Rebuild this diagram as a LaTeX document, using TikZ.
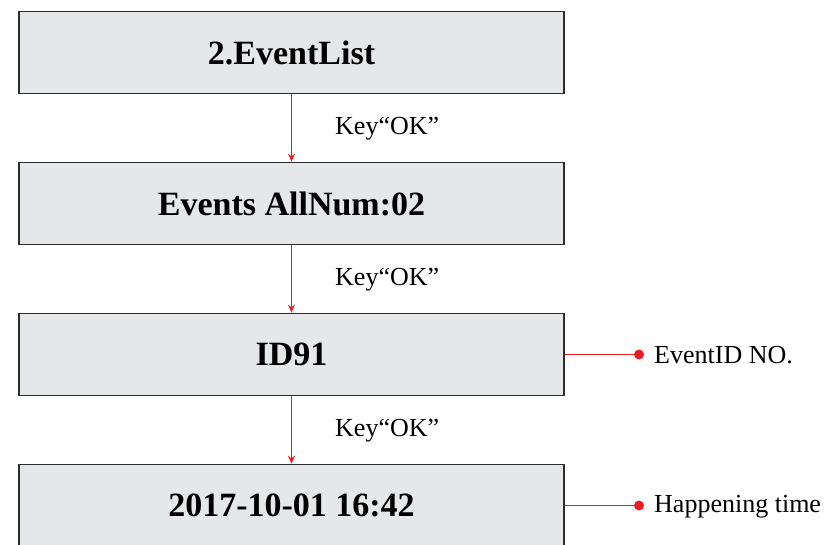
\documentclass[tikz,border=0pt]{standalone}
\usepackage{fontspec}
\setmainfont{Liberation Serif}
\usetikzlibrary{arrows.meta}
\definecolor{boxfill}{RGB}{230,231,232}
\definecolor{boxline}{RGB}{45,45,48}
\definecolor{redline}{RGB}{237,28,36}
\begin{document}
\begin{tikzpicture}[x=1pt,y=-1pt,
  menubox/.style={draw=boxline, fill=boxfill, line width=1.6pt, minimum width=545pt, minimum height=82pt, inner sep=0pt, font=\fontsize{34}{40}\selectfont\bfseries},
  keylabel/.style={anchor=west, inner sep=0pt, font=\fontsize{26}{30}\selectfont},
  sidelabel/.style={anchor=west, inner sep=0pt, font=\fontsize{26}{30}\selectfont},
  redarrow/.style={draw=redline, line width=1.2pt, -{Stealth[length=8pt,width=7pt]}},
  redlink/.style={draw=redline, line width=1.2pt},
  reddot/.style={circle, fill=redline, inner sep=0pt, minimum size=10pt}]
\useasboundingbox (0,0) rectangle (827,544);
\node[menubox] (b1) at (291.5,52.5) {2.EventList};
\node[menubox] (b2) at (291.5,203.5) {Events AllNum:02};
\node[menubox] (b3) at (291.5,354.5) {ID91};
\node[menubox] (b4) at (291.5,505.5) {2017-10-01 16:42};
\draw[redarrow] (b1.south) -- (b2.north);
\draw[redarrow] (b2.south) -- (b3.north);
\draw[redarrow] (b3.south) -- (b4.north);
\node[keylabel] (k1) at (335,129) {Key“OK”};
\node[keylabel] (k2) at (335,280) {Key“OK”};
\node[keylabel] (k3) at (335,431) {Key“OK”};
\node[reddot] (d3) at (639,354.5) {};
\node[reddot] (d4) at (639,505.5) {};
\draw[redlink] (b3.east) -- (d3.center);
\draw[redlink] (b4.east) -- (d4.center);
\node[sidelabel] (s3) at (654,355.5) {EventID NO.};
\node[sidelabel] (s4) at (654,506.5) {Happening time};
\end{tikzpicture}
\end{document}
